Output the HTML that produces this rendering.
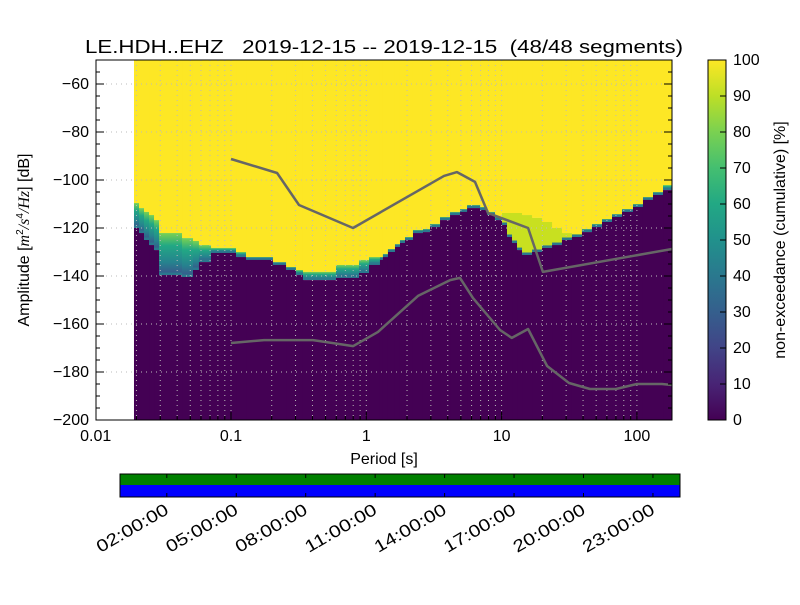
<!DOCTYPE html>
<html><head><meta charset="utf-8"><style>
body{margin:0;background:#fff}
text{font-family:"Liberation Sans",sans-serif;fill:#000}
</style></head><body>
<svg id="s" width="800" height="600" viewBox="0 0 800 600" xmlns="http://www.w3.org/2000/svg">
<defs>
<linearGradient id="band" x1="0" y1="1" x2="0" y2="0">
<stop offset="0" stop-color="#3b528b"/><stop offset="0.3" stop-color="#26828e"/><stop offset="0.7" stop-color="#22a884"/><stop offset="1" stop-color="#7ad151"/>
</linearGradient>
<linearGradient id="cbar" x1="0" y1="1" x2="0" y2="0">
<stop offset="0" stop-color="#440154"/><stop offset="0.1" stop-color="#482475"/><stop offset="0.2" stop-color="#414487"/><stop offset="0.3" stop-color="#355f8d"/><stop offset="0.4" stop-color="#2a788e"/><stop offset="0.5" stop-color="#21918c"/><stop offset="0.6" stop-color="#22a884"/><stop offset="0.7" stop-color="#44bf70"/><stop offset="0.8" stop-color="#7ad151"/><stop offset="0.9" stop-color="#bddf26"/><stop offset="1" stop-color="#fde725"/>
</linearGradient>
<clipPath id="pc"><rect x="96" y="60" width="576" height="360"/></clipPath>
</defs>
<g id="heat" clip-path="url(#pc)"></g>
<g id="grid"></g>
<g id="lines" clip-path="url(#pc)"></g>
<rect x="96" y="60" width="576" height="360" fill="none" stroke="#000" stroke-width="1"/>
<g id="axes"></g>
<text x="384" y="53" font-size="18.5" text-anchor="middle" textLength="598" lengthAdjust="spacingAndGlyphs" style="white-space:pre">LE.HDH..EHZ   2019-12-15 -- 2019-12-15  (48/48 segments)</text>
<text x="384" y="464" font-size="16" text-anchor="middle">Period [s]</text>
<text transform="translate(29,240) rotate(-90)" font-size="16" text-anchor="middle">Amplitude [<tspan font-style="italic" font-family="Liberation Serif">m</tspan><tspan font-size="10" dy="-6">2</tspan><tspan dy="6" font-style="italic" font-family="Liberation Serif">/s</tspan><tspan font-size="10" dy="-6">4</tspan><tspan dy="6" font-style="italic" font-family="Liberation Serif">/Hz</tspan>] [dB]</text>
<rect x="708" y="60" width="18" height="360" fill="url(#cbar)" stroke="#000"/>
<g id="cb"></g>
<text transform="translate(785,240) rotate(-90)" font-size="16" text-anchor="middle">non-exceedance (cumulative) [%]</text>
<g>
<rect x="120" y="474" width="560" height="11" fill="#008000"/>
<rect x="120" y="485" width="560" height="12" fill="#0000ff"/>
<rect x="120" y="474" width="560" height="23" fill="none" stroke="#000"/>
</g>
<g id="tl"></g>
</svg>
<script>
const colLogP=[-1.717,-1.680,-1.643,-1.606,-1.569,-1.532,-1.362,-1.281,-1.237,-1.148,-0.963,-0.889,-0.690,-0.593,-0.520,-0.468,-0.224,-0.054,0.020,0.101,0.123,0.160,0.212,0.249,0.286,0.345,0.419,0.471,0.545,0.619,0.693,0.745,0.841,0.893,0.951,1.003,1.040,1.077,1.114,1.151,1.225,1.299,1.373,1.446,1.520,1.594,1.668,1.742,1.816,1.890,1.971,2.045,2.119,2.193];
const colLow=[-120,-122.1,-125,-127.1,-129.2,-139.6,-140.4,-137.5,-134.2,-130.4,-132.1,-133.3,-135.4,-137.5,-139.6,-141.7,-140.8,-138.75,-135.4,-133.3,-132.1,-130,-127.9,-126.25,-125,-122.1,-121.7,-119.6,-116.7,-114.6,-113.3,-111.7,-112.5,-114.6,-116.7,-118.75,-123.75,-126.25,-129.2,-131.25,-130,-128.3,-127.1,-125,-123.75,-121.7,-119.6,-117.5,-115.4,-113.3,-111.25,-108.3,-106.25,-104.2];
const colHigh=[-109.6,-111.7,-113.3,-114.6,-116.7,-122.1,-124.2,-125.4,-127.1,-128.3,-130,-132.1,-134.2,-136.25,-137.5,-138.3,-135.4,-133.3,-132.1,-132.1,-130.8,-128.75,-126.7,-125,-123.75,-120.8,-120.4,-118.3,-115.4,-113.3,-112.1,-110.4,-111.25,-113.3,-115.4,-113.75,-113.75,-113.75,-113.75,-114.6,-115.8,-117.5,-120,-122.1,-122.5,-120.4,-118.3,-116.25,-114.2,-112.1,-110,-107.1,-105,-102.1];
const hnmPeriod=[0.1,0.219,0.318,0.798,3.75,4.68,6.36,7.93,15.7,20.2,181.6];
const hnmDb=[-91.25,-97.1,-110.4,-120,-98.3,-96.7,-100.8,-113.75,-120,-138.3,-128.75];
const lnmPeriod=[0.1,0.175,0.404,0.8,1.22,2.41,4.16,4.93,6.15,9.73,11.9,15.7,21.7,31.5,45,70.1,100,153,182];
const lnmDb=[-167.9,-166.7,-166.7,-169.2,-163.3,-148.3,-141.7,-140.8,-149.2,-162.5,-165.8,-162.1,-177.5,-184.6,-187.1,-187.1,-185,-185,-185.4];
const xTickLabels=["0.01","0.1","1","10","100"];
const yTicks=[-60,-80,-100,-120,-140,-160,-180,-200];
const cbTicks=[0,10,20,30,40,50,60,70,80,90,100];
const timeTicks=["02:00:00","05:00:00","08:00:00","11:00:00","14:00:00","17:00:00","20:00:00","23:00:00"];
const timeHours=[2,5,8,11,14,17,20,23];
const NS="http://www.w3.org/2000/svg";
const endLogP=2.259;
function xl(l){return 231+(l+1)*135.3;}
function xp(p){return xl(Math.log10(p));}
function yd(d){return 84+(-60-d)*2.4;}
function mk(t,a,parent){const e=document.createElementNS(NS,t);for(const k in a)e.setAttribute(k,a[k]);document.getElementById(parent).appendChild(e);return e;}
for(let i=0;i<colLogP.length;i++){
  const x0=xl(colLogP[i]),x1=xl(i+1<colLogP.length?colLogP[i+1]:endLogP),w=x1-x0+0.5;
  const yl=yd(colLow[i]),yh=yd(colHigh[i]);
  let r=mk('rect',{x:x0,y:60,width:w,height:yh-60,fill:'#fde725'},'heat');
  
  
  const lime=colLogP[i]>0.98&&colLogP[i]<1.55;
  r=mk('rect',{x:x0,y:yh,width:w,height:Math.max(0,yl-yh),fill:lime?'#c8e020':'url(#band)'},'heat');
  
  
  r=mk('rect',{x:x0,y:yl-2.5,width:w,height:2.5,fill:'#2a788e'},'heat');
  
  
  r=mk('rect',{x:x0,y:yl,width:w,height:420-yl,fill:'#440154'},'heat');
  
  
}
for(let d=-2;d<=2;d++){for(let m=1;m<=9;m++){const x=xl(d+Math.log10(m));if(x<96||x>672)continue;
  const g=mk('line',{x1:x,y1:60,x2:x,y2:420,stroke:'#bbbbbb','stroke-dasharray':'1,4','stroke-width':1},'grid');
  
  
  const t1=mk('line',{x1:x,y1:420,x2:x,y2:420-(m==1?8:4),stroke:'#000'},'axes');
  
  
}}
yTicks.forEach(v=>{const y=yd(v);
  const g=mk('line',{x1:96,y1:y,x2:672,y2:y,stroke:'#bbbbbb','stroke-dasharray':'1,4'},'grid');
  
  
  const t=mk('text',{x:89,y:y+5,'font-size':16,'text-anchor':'end'},'axes');t.textContent=String(v).replace('-','\u2212');
  
  
  mk('line',{x1:96,y1:y,x2:104,y2:y,stroke:'#000'},'axes');
  mk('line',{x1:672,y1:y,x2:664,y2:y,stroke:'#000'},'axes');
});
for(let v=-200;v<=-50;v+=5){const y=yd(v);mk('line',{x1:96,y1:y,x2:100,y2:y,stroke:'#000'},'axes');mk('line',{x1:672,y1:y,x2:668,y2:y,stroke:'#000'},'axes');}
xTickLabels.forEach((s,i)=>{const t=mk('text',{x:xl(i-2),y:441,'font-size':16,'text-anchor':'middle'},'axes');t.textContent=s;
  
  });
function poly(P,D,name){const pts=P.map((p,i)=>xp(p).toFixed(1)+','+yd(D[i]).toFixed(1)).join(' ');
  const l=mk('polyline',{points:pts,fill:'none',stroke:'#666','stroke-width':2.5,'stroke-linejoin':'round'},'lines');
  
  }
poly(hnmPeriod,hnmDb,'high-noise-model-line');
poly(lnmPeriod,lnmDb,'low-noise-model-line');
cbTicks.forEach(v=>{const y=420-v*3.6;
  mk('line',{x1:720,y1:y,x2:726,y2:y,stroke:'#000'},'cb');
  const t=mk('text',{x:733,y:y+5,'font-size':16},'cb');t.textContent=v;
  
  });
timeHours.forEach((h,i)=>{const x=120.5+h*23.15;
  mk('line',{x1:x,y1:474,x2:x,y2:478,stroke:'#000'},'tl');
  mk('line',{x1:x,y1:497,x2:x,y2:493,stroke:'#000'},'tl');
  const t=mk('text',{transform:'translate('+(x+3)+',513) rotate(-30)','font-size':17,'text-anchor':'end',textLength:80,lengthAdjust:'spacingAndGlyphs'},'tl');t.textContent=timeTicks[i];
  
  });
</script>
</body></html>
